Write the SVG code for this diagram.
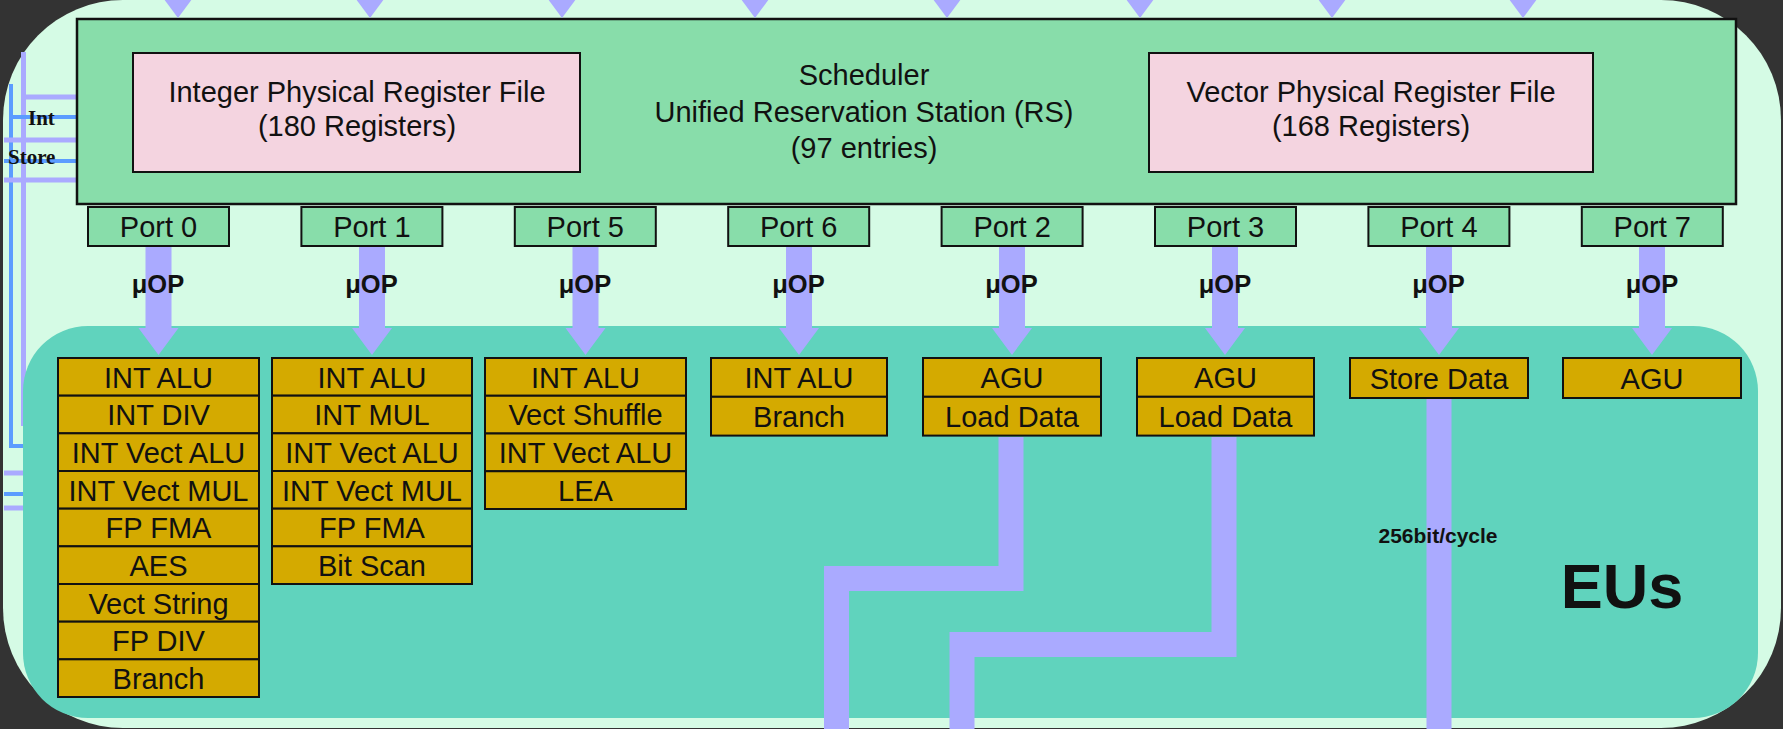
<svg xmlns="http://www.w3.org/2000/svg" width="1783" height="729" viewBox="0 0 1783 729">
<style>
.sans{font-family:"Liberation Sans",Arial,sans-serif;fill:#111}
.t29{font-size:29px;text-anchor:middle}
.port{fill:#88ddaa;stroke:#111;stroke-width:2}
.pt{font-size:29px;text-anchor:middle}
.eu{fill:#d4aa00;stroke:#111;stroke-width:2}
.et{font-size:29px;text-anchor:middle}
.uop{font-size:25.5px;font-weight:bold;text-anchor:middle}
.arr{fill:#aaaaff}
.shaft{fill:none;stroke:#aaaaff;stroke-width:25;stroke-linejoin:miter}
.lav{stroke:#aaaaff;stroke-width:5;fill:none}
.blu{stroke:#5b9cff;stroke-width:4;fill:none}
.lbl{font-family:"Liberation Serif","Times New Roman",serif;font-weight:bold;font-size:21px;fill:#111}
</style>
<rect x="0" y="0" width="1783" height="729" fill="#333333"/>
<rect id="panel" x="3" y="0" width="1778" height="728" rx="120" ry="120" fill="#d5fbe5"/>
<g id="connectors">
  <g id="left-lines">
    <line class="lav" x1="23.5" y1="52" x2="23.5" y2="426"/>
    <path class="blu" d="M11 84 V446 H26"/>
    <line class="lav" x1="23" y1="97" x2="78" y2="97"/>
    <line class="blu" x1="11" y1="117" x2="78" y2="117"/>
    <line class="lav" x1="4" y1="140" x2="78" y2="140"/>
    <line class="blu" x1="4" y1="161" x2="78" y2="161"/>
    <line class="lav" x1="4" y1="180" x2="78" y2="180"/>
    <line class="lav" x1="4" y1="473" x2="26" y2="473"/>
    <line class="blu" x1="4" y1="494" x2="26" y2="494"/>
    <line class="lav" x1="4" y1="508" x2="26" y2="508"/>
  </g>
</g>
<rect id="eus-region" x="23" y="326" width="1735" height="392" rx="65" ry="65" fill="#60d3bd"/>
<text class="sans" x="1622" y="608" font-size="63" font-weight="bold" text-anchor="middle">EUs</text>
<g id="scheduler">
  <rect x="77" y="19" width="1659" height="185" fill="#88ddaa" stroke="#111" stroke-width="2.5"/>
  <text class="sans t29" x="864" y="85">Scheduler</text>
  <text class="sans t29" x="864" y="122">Unified Reservation Station (RS)</text>
  <text class="sans t29" x="864" y="158">(97 entries)</text>
</g>
<g id="int-prf">
  <rect x="133" y="53" width="447" height="119" fill="#f4d4e0" stroke="#111" stroke-width="2"/>
  <text class="sans t29" x="357" y="102">Integer Physical Register File</text>
  <text class="sans t29" x="357" y="136">(180 Registers)</text>
</g>
<g id="vec-prf">
  <rect x="1149" y="53" width="444" height="119" fill="#f4d4e0" stroke="#111" stroke-width="2"/>
  <text class="sans t29" x="1371" y="102">Vector Physical Register File</text>
  <text class="sans t29" x="1371" y="136">(168 Registers)</text>
</g>
<g id="connectors-main">
  <g id="top-arrows">
    <polygon class="arr" points="158,-9 198,-9 178,18"/>
    <polygon class="arr" points="350,-9 390,-9 370,18"/>
    <polygon class="arr" points="542,-9 582,-9 562,18"/>
    <polygon class="arr" points="735,-9 775,-9 755,18"/>
    <polygon class="arr" points="927,-9 967,-9 947,18"/>
    <polygon class="arr" points="1120,-9 1160,-9 1140,18"/>
    <polygon class="arr" points="1312,-9 1352,-9 1332,18"/>
    <polygon class="arr" points="1503,-9 1543,-9 1523,18"/>
  </g>
  <g id="uop-arrows">
    <path class="arr" d="M145.5 246 H171.5 V328 H178.5 L158.5 355 L138.5 328 H145.5 Z"/>
    <path class="arr" d="M359 246 H385 V328 H392 L372 355 L352 328 H359 Z"/>
    <path class="arr" d="M572.5 246 H598.5 V328 H605.5 L585.5 355 L565.5 328 H572.5 Z"/>
    <path class="arr" d="M786 246 H812 V328 H819 L799 355 L779 328 H786 Z"/>
    <path class="arr" d="M999 246 H1025 V328 H1032 L1012 355 L992 328 H999 Z"/>
    <path class="arr" d="M1212 246 H1238 V328 H1245 L1225 355 L1205 328 H1212 Z"/>
    <path class="arr" d="M1426 246 H1452 V328 H1459 L1439 355 L1419 328 H1426 Z"/>
    <path class="arr" d="M1639 246 H1665 V328 H1672 L1652 355 L1632 328 H1639 Z"/>
  </g>
  <g id="data-paths">
    <path class="shaft" d="M1011 437 V578.5 H836.5 V735"/>
    <path class="shaft" d="M1224 437 V644.5 H962 V735"/>
    <path class="shaft" d="M1439 397 V735"/>
  </g>
  <g id="uop-labels">
    <text class="sans uop" x="158" y="293">μOP</text>
    <text class="sans uop" x="371.5" y="293">μOP</text>
    <text class="sans uop" x="585" y="293">μOP</text>
    <text class="sans uop" x="798.5" y="293">μOP</text>
    <text class="sans uop" x="1011.5" y="293">μOP</text>
    <text class="sans uop" x="1225" y="293">μOP</text>
    <text class="sans uop" x="1438.5" y="293">μOP</text>
    <text class="sans uop" x="1652" y="293">μOP</text>
  </g>
  <text class="sans" x="1438" y="543" font-size="21" font-weight="bold" text-anchor="middle" fill="#222">256bit/cycle</text>
</g>
<text class="lbl" x="28" y="125">Int</text>
<text class="lbl" x="8" y="164">Store</text>
<g id="port0"><rect class="port" x="88" y="207" width="141" height="39"/><text class="sans pt" x="158.5" y="236.5">Port 0</text></g>
<g id="port1"><rect class="port" x="301.4" y="207" width="141" height="39"/><text class="sans pt" x="371.9" y="236.5">Port 1</text></g>
<g id="port5"><rect class="port" x="514.8" y="207" width="141" height="39"/><text class="sans pt" x="585.3" y="236.5">Port 5</text></g>
<g id="port6"><rect class="port" x="728.2" y="207" width="141" height="39"/><text class="sans pt" x="798.7" y="236.5">Port 6</text></g>
<g id="port2"><rect class="port" x="941.6" y="207" width="141" height="39"/><text class="sans pt" x="1012.1" y="236.5">Port 2</text></g>
<g id="port3"><rect class="port" x="1155" y="207" width="141" height="39"/><text class="sans pt" x="1225.5" y="236.5">Port 3</text></g>
<g id="port4"><rect class="port" x="1368.4" y="207" width="141" height="39"/><text class="sans pt" x="1438.9" y="236.5">Port 4</text></g>
<g id="port7"><rect class="port" x="1581.8" y="207" width="141" height="39"/><text class="sans pt" x="1652.3" y="236.5">Port 7</text></g>
<g id="eu-port0">
  <rect class="eu" x="58" y="358" width="201" height="37.67"/><text class="sans et" x="158.5" y="387.5">INT ALU</text>
  <rect class="eu" x="58" y="395.67" width="201" height="37.67"/><text class="sans et" x="158.5" y="425.2">INT DIV</text>
  <rect class="eu" x="58" y="433.33" width="201" height="37.67"/><text class="sans et" x="158.5" y="462.8">INT Vect ALU</text>
  <rect class="eu" x="58" y="471" width="201" height="37.67"/><text class="sans et" x="158.5" y="500.5">INT Vect MUL</text>
  <rect class="eu" x="58" y="508.67" width="201" height="37.67"/><text class="sans et" x="158.5" y="538.2">FP FMA</text>
  <rect class="eu" x="58" y="546.33" width="201" height="37.67"/><text class="sans et" x="158.5" y="575.8">AES</text>
  <rect class="eu" x="58" y="584" width="201" height="37.67"/><text class="sans et" x="158.5" y="613.5">Vect String</text>
  <rect class="eu" x="58" y="621.67" width="201" height="37.67"/><text class="sans et" x="158.5" y="651.2">FP DIV</text>
  <rect class="eu" x="58" y="659.33" width="201" height="37.67"/><text class="sans et" x="158.5" y="688.8">Branch</text>
</g>
<g id="eu-port1">
  <rect class="eu" x="272" y="358" width="200" height="37.67"/><text class="sans et" x="372" y="387.5">INT ALU</text>
  <rect class="eu" x="272" y="395.67" width="200" height="37.67"/><text class="sans et" x="372" y="425.2">INT MUL</text>
  <rect class="eu" x="272" y="433.33" width="200" height="37.67"/><text class="sans et" x="372" y="462.8">INT Vect ALU</text>
  <rect class="eu" x="272" y="471" width="200" height="37.67"/><text class="sans et" x="372" y="500.5">INT Vect MUL</text>
  <rect class="eu" x="272" y="508.67" width="200" height="37.67"/><text class="sans et" x="372" y="538.2">FP FMA</text>
  <rect class="eu" x="272" y="546.33" width="200" height="37.67"/><text class="sans et" x="372" y="575.8">Bit Scan</text>
</g>
<g id="eu-port5">
  <rect class="eu" x="485" y="358" width="201" height="37.75"/><text class="sans et" x="585.5" y="387.5">INT ALU</text>
  <rect class="eu" x="485" y="395.75" width="201" height="37.75"/><text class="sans et" x="585.5" y="425.3">Vect Shuffle</text>
  <rect class="eu" x="485" y="433.5" width="201" height="37.75"/><text class="sans et" x="585.5" y="463">INT Vect ALU</text>
  <rect class="eu" x="485" y="471.25" width="201" height="37.75"/><text class="sans et" x="585.5" y="500.8">LEA</text>
</g>
<g id="eu-port6">
  <rect class="eu" x="711" y="358" width="176" height="38.8"/><text class="sans et" x="799" y="388">INT ALU</text>
  <rect class="eu" x="711" y="396.8" width="176" height="38.8"/><text class="sans et" x="799" y="426.8">Branch</text>
</g>
<g id="eu-port2">
  <rect class="eu" x="923" y="358" width="178" height="38.8"/><text class="sans et" x="1012" y="388">AGU</text>
  <rect class="eu" x="923" y="396.8" width="178" height="38.8"/><text class="sans et" x="1012" y="426.8">Load Data</text>
</g>
<g id="eu-port3">
  <rect class="eu" x="1137" y="358" width="177" height="38.8"/><text class="sans et" x="1225.5" y="388">AGU</text>
  <rect class="eu" x="1137" y="396.8" width="177" height="38.8"/><text class="sans et" x="1225.5" y="426.8">Load Data</text>
</g>
<g id="eu-port4">
  <rect class="eu" x="1350" y="358" width="178" height="40"/><text class="sans et" x="1439" y="388.5">Store Data</text>
</g>
<g id="eu-port7">
  <rect class="eu" x="1563" y="358" width="178" height="40"/><text class="sans et" x="1652" y="388.5">AGU</text>
</g>
</svg>
